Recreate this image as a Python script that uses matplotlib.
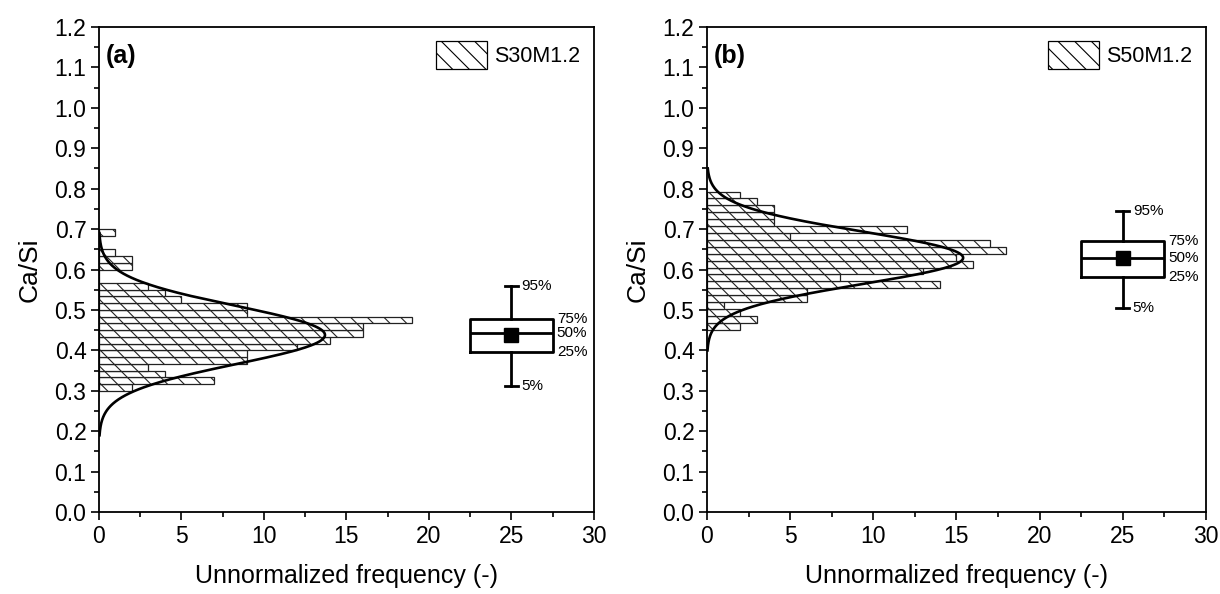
import numpy as np
import matplotlib
matplotlib.use("Agg")
from matplotlib import pyplot as plt
from matplotlib.patches import Patch
from matplotlib.ticker import MultipleLocator, FormatStrFormatter

plt.rcParams['font.family'] = ['Liberation Sans', 'DejaVu Sans']
plt.rcParams['hatch.linewidth'] = 0.8

# histogram (a) S30M1.2: counts per bin, from bottom bin upward
a_bin_start = 0.30
a_bin_width = 1 / 60
a_counts = [2, 7, 4, 3, 9, 9, 12, 14, 16, 16, 19, 9, 9, 5, 4, 3, 0, 0, 2, 2, 1, 0, 0, 1]

# histogram (b) S50M1.2
b_bin_start = 0.451
b_bin_width = 0.0171
b_counts = [2, 3, 2, 1, 6, 6, 14, 8, 13, 16, 15, 18, 17, 5, 12, 4, 4, 4, 3, 2]

# normal fit curves: mean, sd, peak height, drawn range
a_fit = dict(mean=0.438, sd=0.072, peak=13.7, lo=0.19, hi=0.69)
b_fit = dict(mean=0.629, sd=0.065, peak=15.4, lo=0.40, hi=0.85)

# box plot stats (5%, 25%, 50%, 75%, 95%, mean)
a_box = dict(whislo=0.313, q1=0.395, med=0.442, q3=0.477, whishi=0.560, mean=0.439)
b_box = dict(whislo=0.505, q1=0.581, med=0.629, q3=0.670, whishi=0.744, mean=0.628)

labels = ['S30M1.2', 'S50M1.2']
panels = ['(a)', '(b)']

fig = plt.figure(figsize=(12.2, 5.94), dpi=100)
ax1 = fig.add_axes([0.0811, 0.138, 0.4057, 0.8165])
ax2 = fig.add_axes([0.5795, 0.138, 0.409, 0.8165])


def draw(ax, start, width, counts, fit, box, label, panel):
    n = len(counts)
    centers = start + width * (np.arange(n) + 0.5)
    ax.barh(centers, counts, height=width, color='white', edgecolor='#222222',
            linewidth=0.9, hatch='\\\\')

    yy = np.linspace(fit['lo'], fit['hi'], 300)
    xx = fit['peak'] * np.exp(-(yy - fit['mean']) ** 2 / (2 * fit['sd'] ** 2))
    ax.plot(xx, yy, color='black', lw=1.9)

    stats = [dict(box, label='')]
    ax.bxp(stats, positions=[25], widths=5, showmeans=True, showfliers=False,
           capwidths=0.8, manage_ticks=False,
           boxprops=dict(color='black', lw=2),
           whiskerprops=dict(color='black', lw=2),
           capprops=dict(color='black', lw=2),
           medianprops=dict(color='black', lw=2),
           meanprops=dict(marker='s', markerfacecolor='black',
                          markeredgecolor='black', markersize=10))
    ax.text(25.6, box['whishi'], '95%', fontsize=11, va='center', ha='left')
    ax.text(27.75, box['q3'], '75%', fontsize=11, va='center', ha='left')
    ax.text(27.75, box['med'], '50%', fontsize=11, va='center', ha='left')
    ax.text(27.75, box['q1'], '25%', fontsize=11, va='center', ha='left')
    ax.text(25.6, box['whislo'], '5%', fontsize=11, va='center', ha='left')

    ax.set_xlim(0, 30)
    ax.set_ylim(0, 1.2)
    ax.xaxis.set_major_locator(MultipleLocator(5))
    ax.xaxis.set_minor_locator(MultipleLocator(2.5))
    ax.yaxis.set_major_locator(MultipleLocator(0.1))
    ax.yaxis.set_minor_locator(MultipleLocator(0.05))
    ax.yaxis.set_major_formatter(FormatStrFormatter('%.1f'))
    ax.tick_params(which='major', direction='out', length=6, width=1.2,
                   labelsize=16.5, pad=3)
    ax.tick_params(which='minor', direction='out', length=3.5, width=1.2)
    for s in ax.spines.values():
        s.set_linewidth(1.3)

    ax.set_xlabel('Unnormalized frequency (-)', fontsize=18, labelpad=12)
    ax.set_ylabel('Ca/Si', fontsize=19, labelpad=9)
    ax.text(0.014, 0.94, panel, transform=ax.transAxes, fontsize=18,
            fontweight='bold', va='center')

    h = Patch(facecolor='white', edgecolor='black', hatch='\\\\', lw=0.9)
    ax.legend([h], [label], loc='upper right', frameon=False, fontsize=15.5,
              handlelength=2.4, handleheight=1.6, handletextpad=0.3,
              borderaxespad=0.25)


draw(ax1, a_bin_start, a_bin_width, a_counts, a_fit, a_box, labels[0], panels[0])
draw(ax2, b_bin_start, b_bin_width, b_counts, b_fit, b_box, labels[1], panels[1])

fig.savefig('out.png', dpi=100)
